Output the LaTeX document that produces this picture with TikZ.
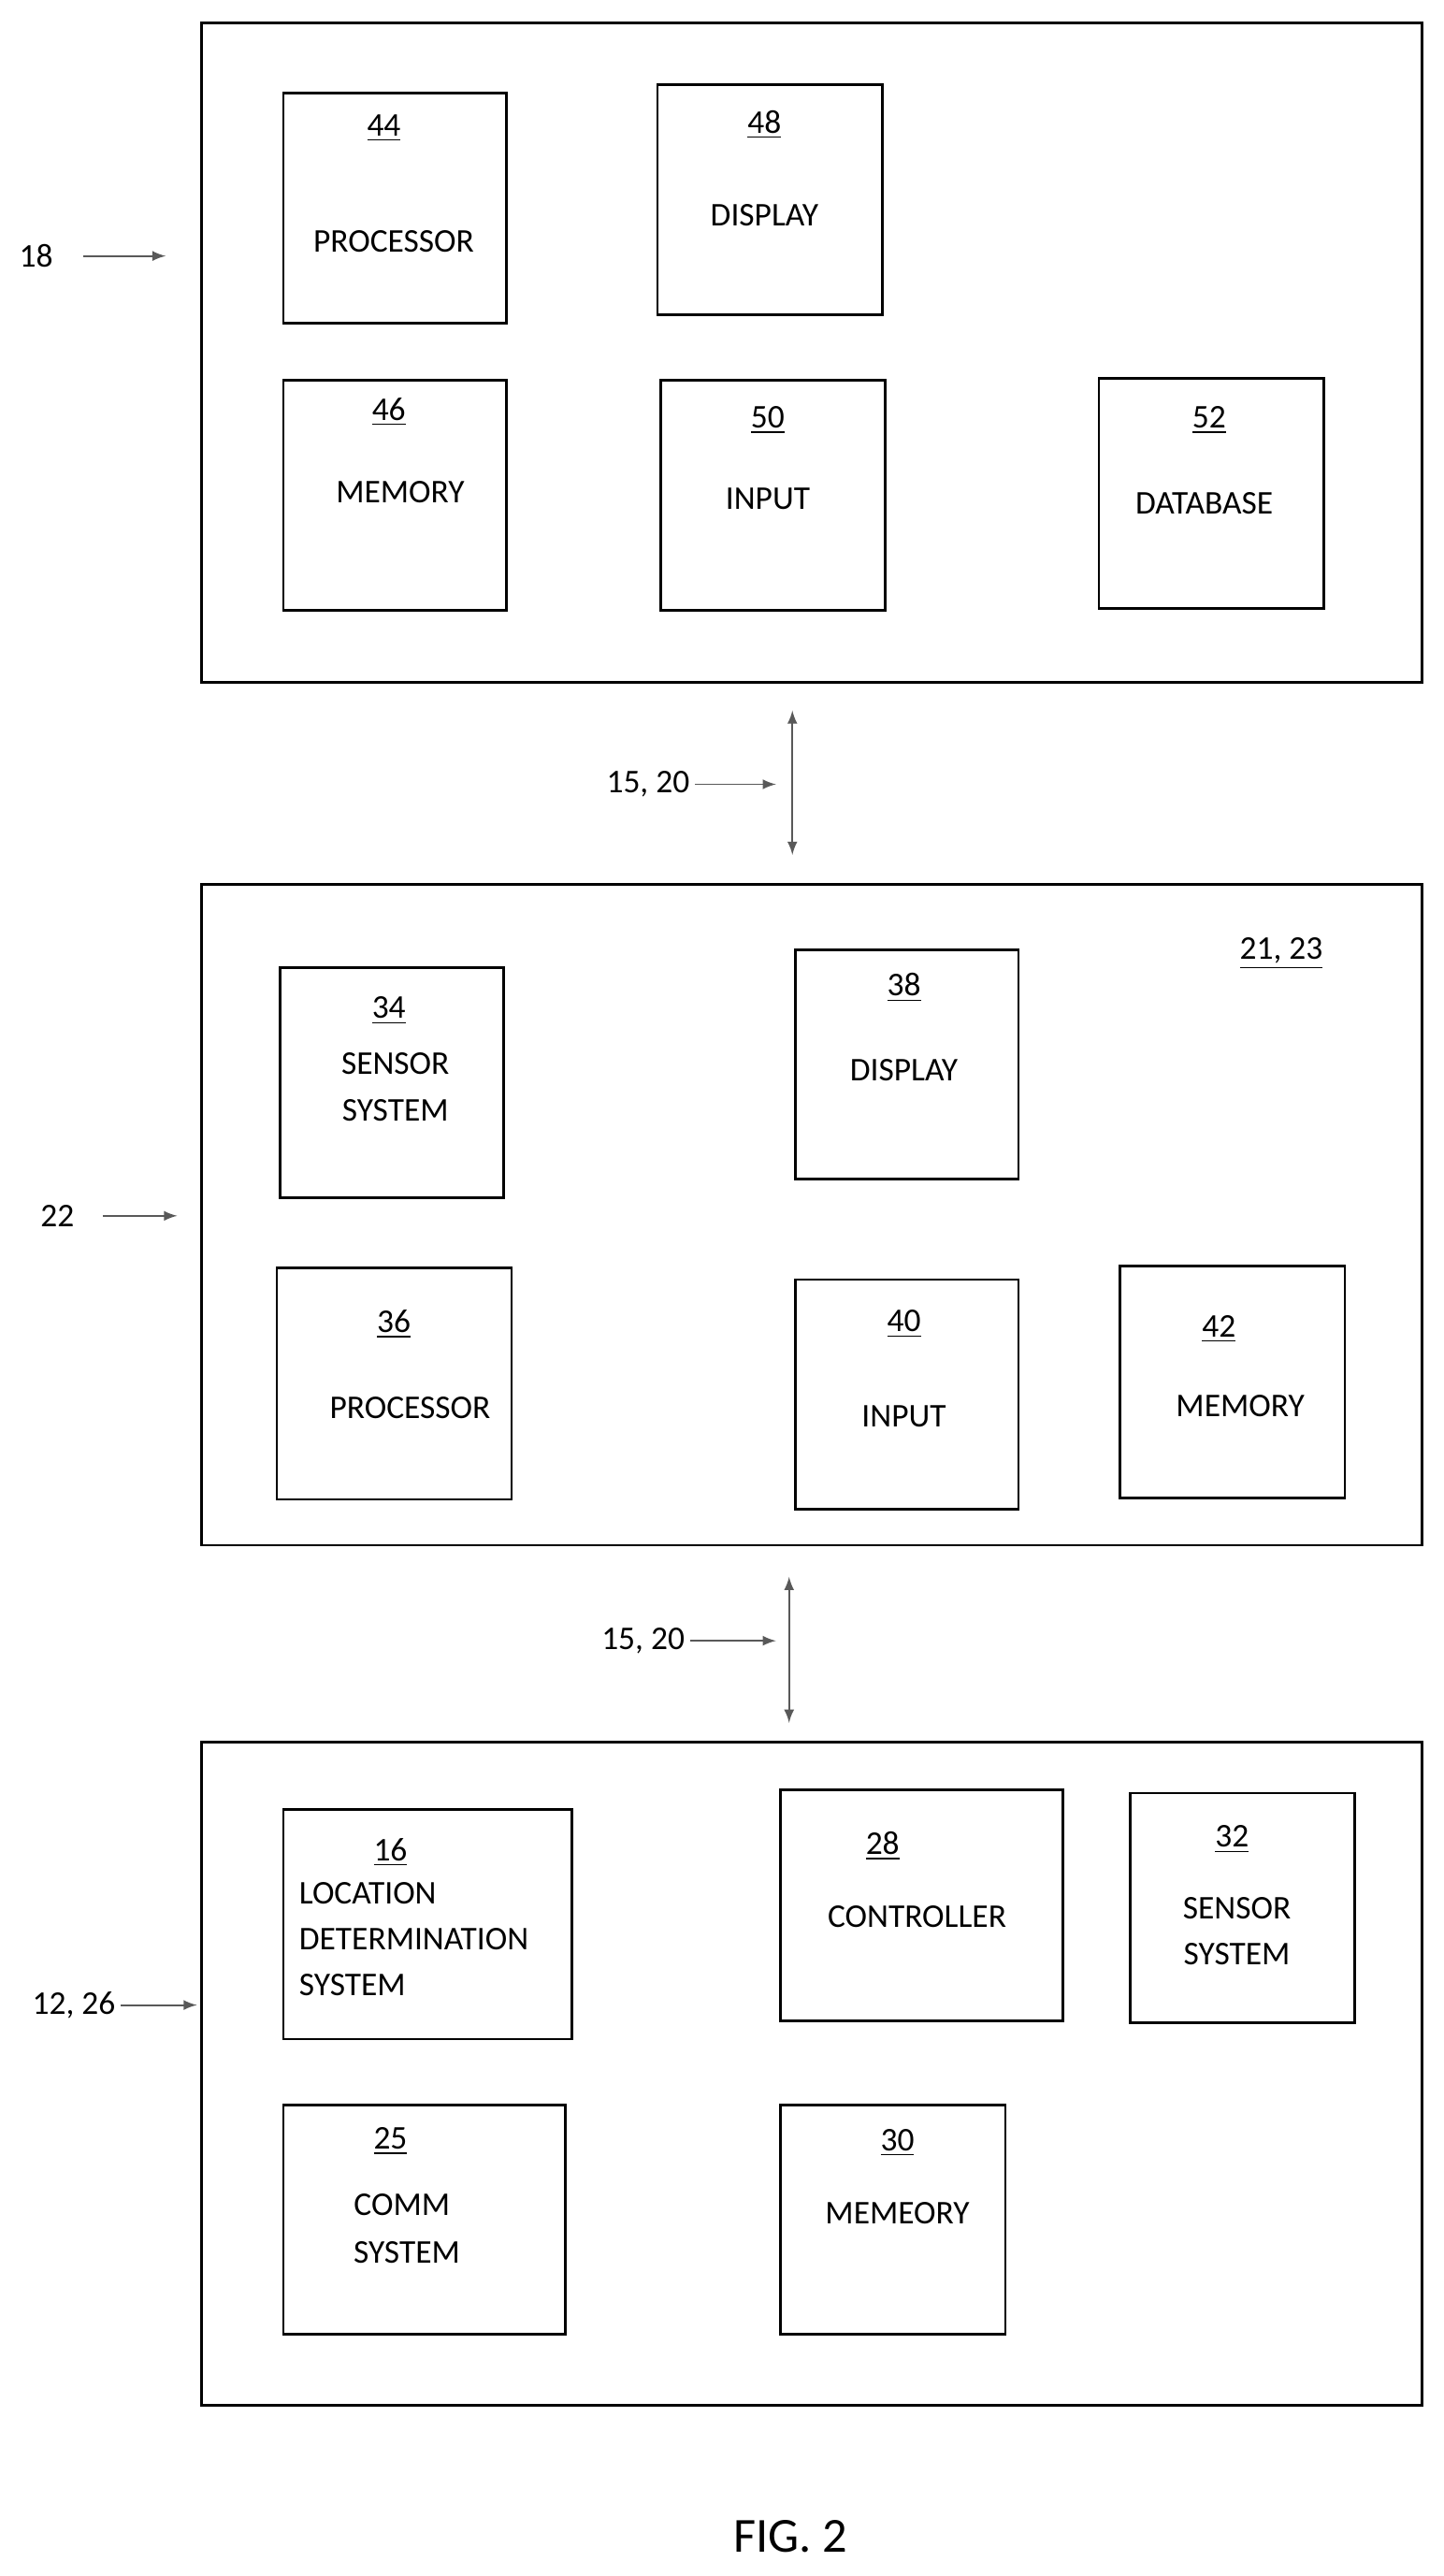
\documentclass[tikz,border=0pt]{standalone}
\usepackage{fontspec}
\setmainfont{Carlito}
\begin{document}
\begin{tikzpicture}[x=0.02cm,y=-0.02cm,
  box/.style={draw,line width=0.9pt,inner sep=0pt},
  t/.style={font=\fontsize{11.5}{13.8}\selectfont,inner sep=0pt},
  n/.style={t},
  ar/.style={-latex,gray!70!black,line width=0.6pt},
  dar/.style={latex-latex,gray!70!black,line width=0.6pt}]
\useasboundingbox (0,0) rectangle (880,1570);
\newcommand\bx[5]{\node[box,minimum width=#4*0.02cm,minimum height=#5*0.02cm,anchor=north west] (#1) at (#2,#3) {};}
% top
\bx{o1}{122}{13}{744}{402}
\bx{b44}{172}{56}{136}{140}
\bx{b48}{400}{51}{137}{140}
\bx{b46}{172}{231}{136}{140}
\bx{b50}{402}{231}{137}{140}
\bx{b52}{669}{230}{137}{140}
\node[n] (l44) at (234,78) {\underline{44}}; \node[t] (t44) at (240,147) {PROCESSOR};
\node[n] (l48) at (466,76) {\underline{48}}; \node[t] (t48) at (466,131) {DISPLAY};
\node[n] (l46) at (237,251) {\underline{46}}; \node[t] (t46) at (244,300) {MEMORY};
\node[n] (l50) at (468,256) {\underline{50}}; \node[t] (t50) at (468,304) {INPUT};
\node[n] (l52) at (737,256) {\underline{52}}; \node[t] (t52) at (734,307) {DATABASE};
\node[t] (r18) at (22,156) {18};
\coordinate (a18) at (101,156);
\draw[ar] (r18.east)++(18,0) -- (a18);
% link 1
\coordinate (d1a) at (483,433); \coordinate (d1b) at (483,521);
\draw[dar] (d1a) -- (d1b);
\node[t] (r1520a) at (395,478) {15, 20};
\coordinate (a1520a) at (473,478);
\draw[ar] (r1520a.east)++(3,0) -- (a1520a);
% middle
\bx{o2}{122}{538}{744}{403}
\bx{b34}{170}{589}{136}{140}
\bx{b38}{484}{578}{136}{140}
\bx{b36}{168}{772}{143}{141}
\bx{b40}{484}{779}{136}{140}
\bx{b42}{682}{771}{137}{141}
\node[n] (l34) at (237,616) {\underline{34}}; \node[t] (t34a) at (241,648) {SENSOR}; \node[t] (t34b) at (241,677) {SYSTEM};
\node[n] (l38) at (551,602) {\underline{38}}; \node[t] (t38) at (551,652) {DISPLAY};
\node[n] (l2123) at (781,581) {\underline{21, 23}};
\node[n] (l36) at (240,807) {\underline{36}}; \node[t] (t36) at (250,858) {PROCESSOR};
\node[n] (l40) at (551,807) {\underline{40}}; \node[t] (t40) at (551,863) {INPUT};
\node[n] (l42) at (743,810) {\underline{42}}; \node[t] (t42) at (756,857) {MEMORY};
\node[t] (r22) at (35,741) {22};
\coordinate (a22) at (108,741);
\draw[ar] (r22.east)++(17,0) -- (a22);
% link 2
\coordinate (d2a) at (481,961); \coordinate (d2b) at (481,1050);
\draw[dar] (d2a) -- (d2b);
\node[t] (r1520b) at (392,1000) {15, 20};
\coordinate (a1520b) at (473,1000);
\draw[ar] (r1520b.east)++(3,0) -- (a1520b);
% bottom
\bx{o3}{122}{1061}{744}{404}
\bx{b16}{172}{1102}{176}{140}
\bx{b28}{475}{1090}{172}{141}
\bx{b32}{688}{1092}{137}{140}
\bx{b25}{172}{1282}{172}{140}
\bx{b30}{475}{1282}{137}{140}
\node[n] (l16) at (238,1129) {\underline{16}};
\node[t,anchor=west] (t16a) at (182,1154) {LOCATION};
\node[t,anchor=west] (t16b) at (182,1182) {DETERMINATION};
\node[t,anchor=west] (t16c) at (182,1210) {SYSTEM};
\node[n] (l28) at (538,1125) {\underline{28}}; \node[t] (t28) at (559,1168) {CONTROLLER};
\node[n] (l32) at (751,1121) {\underline{32}}; \node[t] (t32a) at (754,1163) {SENSOR}; \node[t] (t32b) at (754,1191) {SYSTEM};
\node[n] (l25) at (238,1305) {\underline{25}}; \node[t] (t25a) at (245,1344) {COMM}; \node[t] (t25b) at (248,1373) {SYSTEM};
\node[n] (l30) at (547,1306) {\underline{30}}; \node[t] (t30) at (547,1349) {MEMEORY};
\node[t] (r1226) at (45,1222) {12, 26};
\coordinate (a1226) at (120,1222);
\draw[ar] (r1226.east)++(3,0) -- (a1226);
\node[t,font=\fontsize{17}{20}\selectfont] (fig) at (482,1546) {FIG. 2};
\end{tikzpicture}
\end{document}
